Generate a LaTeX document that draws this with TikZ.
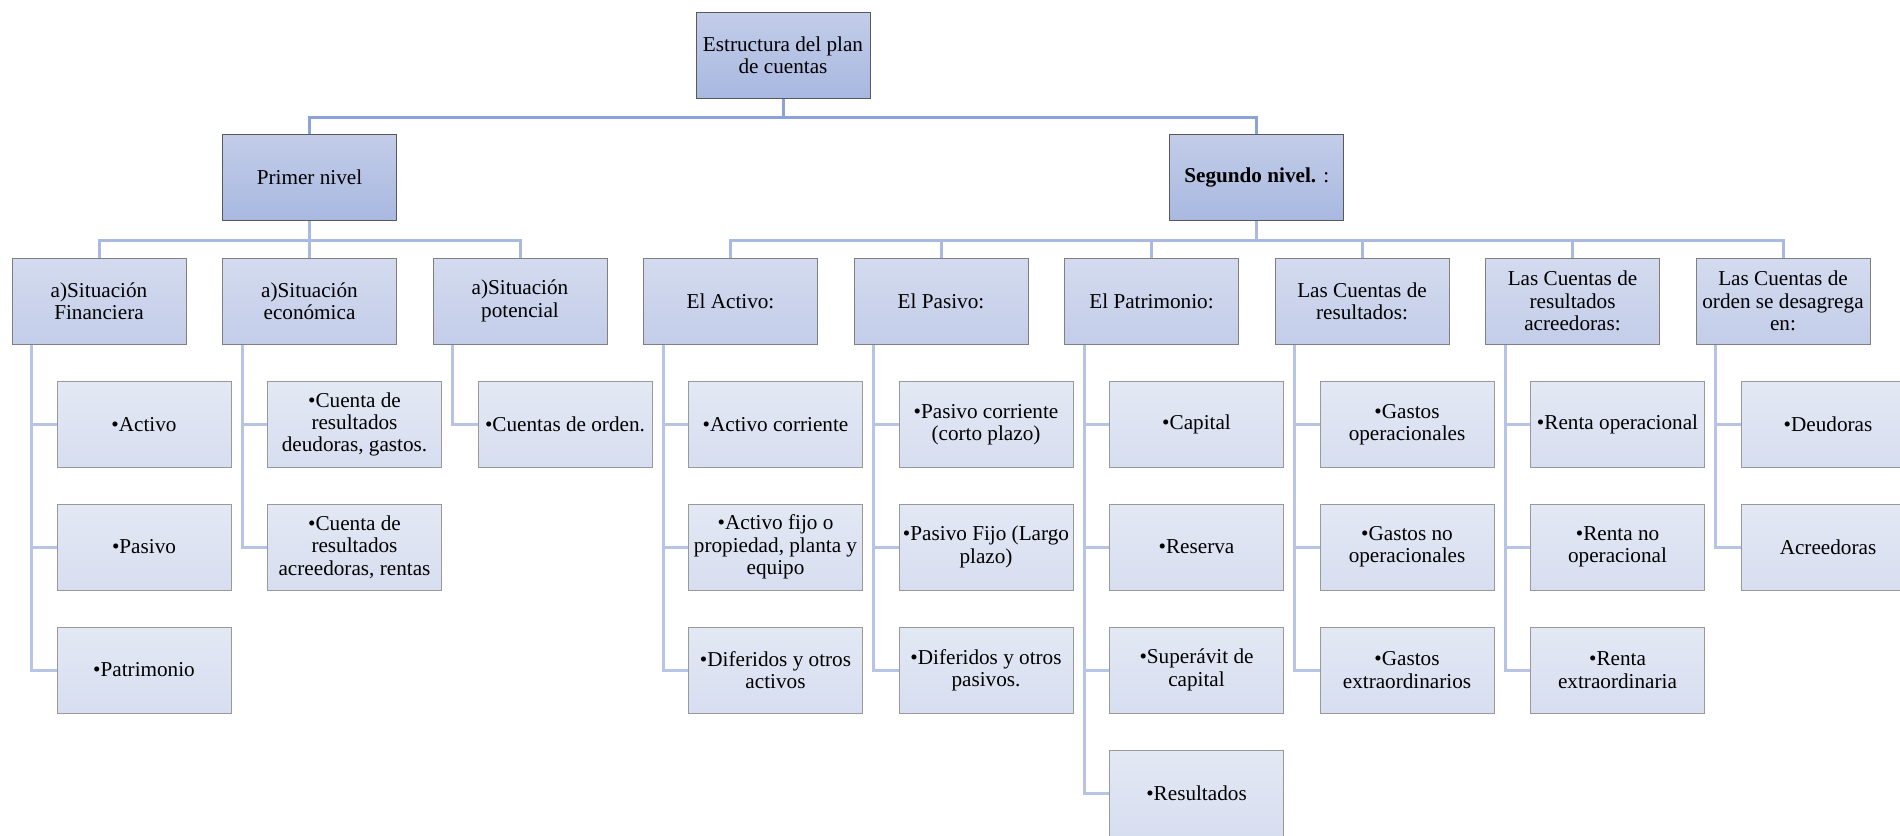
\documentclass[tikz,border=0pt]{standalone}
\usepackage{fontspec}
\setmainfont{Liberation Serif}
\usetikzlibrary{backgrounds}

\definecolor{topA}{HTML}{C3CDE9}
\definecolor{topB}{HTML}{A8B8E0}
\definecolor{midA}{HTML}{D4DBEF}
\definecolor{midB}{HTML}{C3CDE9}
\definecolor{leafA}{HTML}{E3E8F4}
\definecolor{leafB}{HTML}{D7DEF0}
\definecolor{lineA}{HTML}{8CA3D9}
\definecolor{lineB}{HTML}{A9B9E1}
\definecolor{lineC}{HTML}{B7C4E6}

\tikzset{
	box/.style={draw, rectangle, align=center, minimum width=87pt, minimum height=43pt, inner sep=1pt,
		font=\fontsize{10.6}{11.2}\selectfont},
	topbox/.style={box, draw=black!65, top color=topA, bottom color=topB},
	midbox/.style={box, draw=black!50, top color=midA, bottom color=midB},
	leafbox/.style={box, draw=black!40, top color=leafA, bottom color=leafB},
	linkA/.style={draw=lineA, line width=1.5pt},
	linkB/.style={draw=lineB, line width=1.5pt},
	linkC/.style={draw=lineC, line width=1.5pt},
}

\begin{document}
\begin{tikzpicture}[x=0.5pt,y=-0.5pt]
	\useasboundingbox (0,0) rectangle (1900,835);
	% top levels
	\node (plan) at (783,55)[topbox] {Estructura del plan\\de cuentas};
	\node (primer) at (309.5,177.5)[topbox] {Primer nivel};
	\node (segundo) at (1256.75,177.5)[topbox] {\textbf{Segundo nivel.} :};
	% first level groups
	\node (fin) at (99,301)[midbox] {a)Situación\\Financiera};
	\node (eco) at (309.5,301)[midbox] {a)Situación\\económica};
	\node (pot) at (520,301)[midbox] {a)Situación\\potencial};
	% second level groups
	\node (act) at (730.5,301)[midbox] {El Activo:};
	\node (pas) at (941,301)[midbox] {El Pasivo:};
	\node (pat) at (1151.5,301)[midbox] {El Patrimonio:};
	\node (res) at (1362,301)[midbox] {Las Cuentas de\\resultados:};
	\node (acr) at (1572.5,301)[midbox] {Las Cuentas de\\resultados\\acreedoras:};
	\node (ord) at (1783,301)[midbox] {Las Cuentas de\\orden se desagrega\\en:};
	% leaves
	\node (fin1) at (144,424.5)[leafbox] {•Activo};
	\node (fin2) at (144,547)[leafbox] {•Pasivo};
	\node (fin3) at (144,670)[leafbox] {•Patrimonio};
	\node (eco1) at (354.5,424.5)[leafbox] {•Cuenta de\\resultados\\deudoras, gastos.};
	\node (eco2) at (354.5,547)[leafbox] {•Cuenta de\\resultados\\acreedoras, rentas};
	\node (pot1) at (565,424.5)[leafbox] {•Cuentas de orden.};
	\node (act1) at (775.5,424.5)[leafbox] {•Activo corriente};
	\node (act2) at (775.5,547)[leafbox] {•Activo fijo o\\propiedad, planta y\\equipo};
	\node (act3) at (775.5,670)[leafbox] {•Diferidos y otros\\activos};
	\node (pas1) at (986,424.5)[leafbox] {•Pasivo corriente\\(corto plazo)};
	\node (pas2) at (986,547)[leafbox] {•Pasivo Fijo (Largo\\plazo)};
	\node (pas3) at (986,670)[leafbox] {•Diferidos y otros\\pasivos.};
	\node (pat1) at (1196.5,424.5)[leafbox] {•Capital};
	\node (pat2) at (1196.5,547)[leafbox] {•Reserva};
	\node (pat3) at (1196.5,670)[leafbox] {•Superávit de\\capital};
	\node (pat4) at (1196.5,793)[leafbox] {•Resultados};
	\node (res1) at (1407,424.5)[leafbox] {•Gastos\\operacionales};
	\node (res2) at (1407,547)[leafbox] {•Gastos no\\operacionales};
	\node (res3) at (1407,670)[leafbox] {•Gastos\\extraordinarios};
	\node (acr1) at (1617.5,424.5)[leafbox] {•Renta operacional};
	\node (acr2) at (1617.5,547)[leafbox] {•Renta no\\operacional};
	\node (acr3) at (1617.5,670)[leafbox] {•Renta\\extraordinaria};
	\node (ord1) at (1828,424.5)[leafbox] {•Deudoras};
	\node (ord2) at (1828,547)[leafbox] {Acreedoras};
	% joints
	\coordinate (j0) at (783,117);
	\coordinate (j1) at (309.5,240);
	\coordinate (j2) at (1256.75,240);
	\begin{scope}[on background layer]
	\draw[linkA] (plan.south)--(j0);
	\draw[linkA] (primer.north) |- (j0) -| (segundo.north);
	\draw[linkB] (primer.south)--(j1)--(eco.north);
	\draw[linkB] (fin.north) |- (j1) -| (pot.north);
	\draw[linkB] (segundo.south)--(j2);
	\draw[linkB] (act.north) |- (j2) -| (ord.north);
	\draw[linkB] (pas.north)--(pas.north |- j2);
	\draw[linkB] (pat.north)--(pat.north |- j2);
	\draw[linkB] (res.north)--(res.north |- j2);
	\draw[linkB] (acr.north)--(acr.north |- j2);
	\draw[linkC] ([xshift=10pt]fin.south west) |- (fin3.west);
	\draw[linkC] ([xshift=10pt]fin.south west) |- (fin2.west);
	\draw[linkC] ([xshift=10pt]fin.south west) |- (fin1.west);
	\draw[linkC] ([xshift=10pt]eco.south west) |- (eco2.west);
	\draw[linkC] ([xshift=10pt]eco.south west) |- (eco1.west);
	\draw[linkC] ([xshift=10pt]pot.south west) |- (pot1.west);
	\draw[linkC] ([xshift=10pt]act.south west) |- (act3.west);
	\draw[linkC] ([xshift=10pt]act.south west) |- (act2.west);
	\draw[linkC] ([xshift=10pt]act.south west) |- (act1.west);
	\draw[linkC] ([xshift=10pt]pas.south west) |- (pas3.west);
	\draw[linkC] ([xshift=10pt]pas.south west) |- (pas2.west);
	\draw[linkC] ([xshift=10pt]pas.south west) |- (pas1.west);
	\draw[linkC] ([xshift=10pt]pat.south west) |- (pat4.west);
	\draw[linkC] ([xshift=10pt]pat.south west) |- (pat3.west);
	\draw[linkC] ([xshift=10pt]pat.south west) |- (pat2.west);
	\draw[linkC] ([xshift=10pt]pat.south west) |- (pat1.west);
	\draw[linkC] ([xshift=10pt]res.south west) |- (res3.west);
	\draw[linkC] ([xshift=10pt]res.south west) |- (res2.west);
	\draw[linkC] ([xshift=10pt]res.south west) |- (res1.west);
	\draw[linkC] ([xshift=10pt]acr.south west) |- (acr3.west);
	\draw[linkC] ([xshift=10pt]acr.south west) |- (acr2.west);
	\draw[linkC] ([xshift=10pt]acr.south west) |- (acr1.west);
	\draw[linkC] ([xshift=10pt]ord.south west) |- (ord2.west);
	\draw[linkC] ([xshift=10pt]ord.south west) |- (ord1.west);
	\end{scope}
\end{tikzpicture}
\end{document}
